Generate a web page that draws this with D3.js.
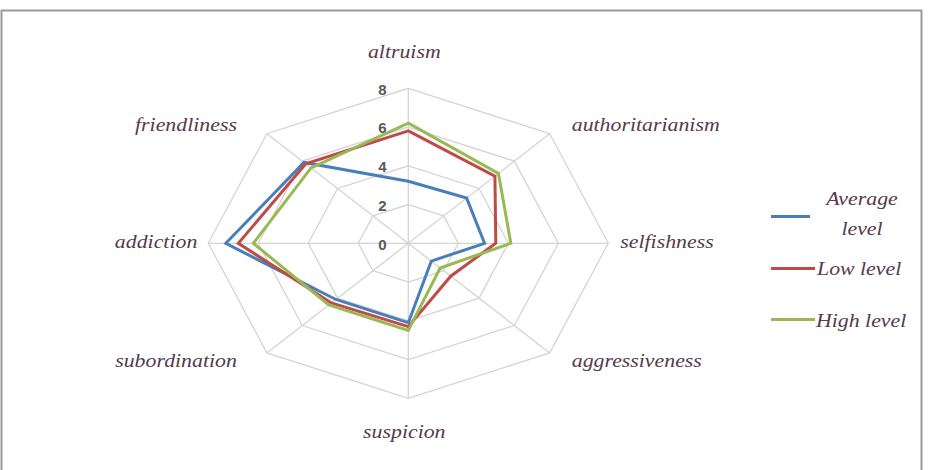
<!DOCTYPE html>
<html>
<head>
<meta charset="utf-8">
<script src="https://cdn.jsdelivr.net/npm/d3@7"></script>
<style>
  html, body { margin: 0; padding: 0; background: #fff; }
  svg { display: block; }
</style>
</head>
<body>
<div id="chart"></div>
<script>
// ---- data ----
const axes = ["altruism", "authoritarianism", "selfishness", "aggressiveness",
              "suspicion", "subordination", "addiction", "friendliness"];
const averageLevel = [3.2, 3.3, 3.05, 1.3, 4.1, 4.1, 7.3, 5.9];
const lowLevel     = [5.8, 4.9, 3.5, 2.4, 4.3, 4.35, 6.8, 5.8];
const highLevel    = [6.2, 5.1, 4.1, 1.8, 4.5, 4.5, 6.2, 5.5];
const seriesNames  = ["Average level", "Low level", "High level"];
const tickValues   = [0, 2, 4, 6, 8];

const series = [
  { name: seriesNames[0], values: averageLevel, color: "#4a7ebb" },
  { name: seriesNames[1], values: lowLevel,     color: "#be4b48" },
  { name: seriesNames[2], values: highLevel,    color: "#98b954" }
];

// ---- layout ----
const W = 928, H = 470;
const cx = 408.3, cy = 243.3;
const rX = d3.scaleLinear().domain([0, 8]).range([0, 200]);
const rY = d3.scaleLinear().domain([0, 8]).range([0, 155]);
const angle = i => i * 2 * Math.PI / axes.length;
const px = (i, v) => cx + Math.sin(angle(i)) * rX(v);
const py = (i, v) => cy - Math.cos(angle(i)) * rY(v);

const labelFont = "'Liberation Serif', 'Times New Roman', serif";
const labelColor = "#563a4d";

const svg = d3.select("#chart").append("svg")
  .attr("width", W).attr("height", H);

svg.append("rect").attr("width", W).attr("height", H).attr("fill", "#fff");

// frame
svg.append("path")
  .attr("d", `M1.5,${H} L1.5,10.5 L921.5,10.5 L921.5,${H}`)
  .attr("fill", "none").attr("stroke", "#9a9a9a").attr("stroke-width", 2);

// grid rings
const g = svg.append("g");
tickValues.filter(t => t > 0).forEach(t => {
  const pts = axes.map((a, i) => [px(i, t), py(i, t)]);
  g.append("path")
    .attr("d", d3.line().curve(d3.curveLinearClosed)(pts))
    .attr("fill", "none").attr("stroke", "#d4d4d4").attr("stroke-width", 1.3);
});
// spokes
axes.forEach((a, i) => {
  g.append("line")
    .attr("x1", cx).attr("y1", cy)
    .attr("x2", px(i, 8)).attr("y2", py(i, 8))
    .attr("stroke", "#d4d4d4").attr("stroke-width", 1.3);
});

// tick labels
tickValues.forEach(t => {
  svg.append("text")
    .attr("x", cx - 26).attr("y", cy - rY(t) + 1)
    .attr("dy", "0.36em")
    .attr("text-anchor", "middle")
    .attr("font-family", "'Liberation Sans', Arial, sans-serif")
    .attr("font-weight", "bold")
    .attr("font-size", 15)
    .attr("fill", "#595959")
    .text(t);
});

// series
const lineGen = d3.line().curve(d3.curveLinearClosed);
series.forEach(s => {
  const pts = s.values.map((v, i) => [px(i, v), py(i, v)]);
  svg.append("path")
    .attr("d", lineGen(pts))
    .attr("fill", "none")
    .attr("stroke", s.color)
    .attr("stroke-width", 3)
    .attr("stroke-linejoin", "miter");
});

// axis labels
function addLabel(x, y, text, anchor) {
  svg.append("text")
    .attr("transform", `translate(${x},${y}) scale(1.12,1)`)
    .attr("text-anchor", anchor)
    .attr("font-family", labelFont)
    .attr("font-style", "italic")
    .attr("font-size", 19.5)
    .attr("fill", labelColor)
    .text(text);
}
axes.forEach((a, i) => {
  const s = Math.sin(angle(i)), c = Math.cos(angle(i));
  const vx = px(i, 8), vy = py(i, 8);
  if (Math.abs(s) < 0.01) {
    addLabel(vx - 4, c > 0 ? vy - 30 : vy + 40, a, "middle");
  } else if (Math.abs(c) < 0.01) {
    addLabel(vx + (s > 0 ? 12 : -11), vy + 5, a, s > 0 ? "start" : "end");
  } else {
    addLabel(vx + (s > 0 ? 22 : -30), c > 0 ? vy - 3 : vy + 14, a, s > 0 ? "start" : "end");
  }
});

// legend
const legend = svg.append("g");
const legendY = [216.5, 268.5, 319.5];
series.forEach((s, k) => {
  legend.append("line")
    .attr("x1", 771).attr("x2", k === 0 ? 810 : 815)
    .attr("y1", legendY[k]).attr("y2", legendY[k])
    .attr("stroke", s.color).attr("stroke-width", 3);
});
addLabel(862, 205, "Average", "middle");
addLabel(862, 235, "level", "middle");
addLabel(817, 275, "Low level", "start");
addLabel(816, 327, "High level", "start");
</script>
</body>
</html>
